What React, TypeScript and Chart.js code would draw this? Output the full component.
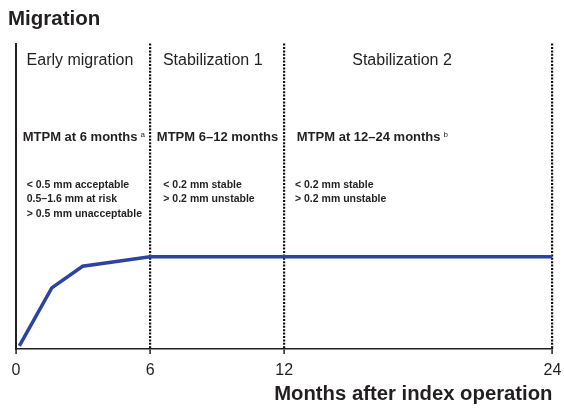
import { useEffect, useRef } from "react";
import { Chart, registerables } from "chart.js";

Chart.register(...registerables);

// ---- data ----
const months = [0.15, 1.6, 2.98, 6, 24];
const migration = [1, 20, 27.1, 30.2, 30.2];
const tickMonths = [0, 6, 12, 24];

const phaseNames = ["Early migration", "Stabilization 1", "Stabilization 2"];
const phaseCentres = [2.86, 8.8, 17.27];
const mtpmLabels = ["MTPM at 6 months", "MTPM 6–12 months", "MTPM at 12–24 months"];
const mtpmNotes = ["a", "", "b"];
const mtpmStarts = [0.3, 6.3, 12.56];
const thresholdLines = [
  ["< 0.5 mm acceptable", "0.5–1.6 mm at risk", "> 0.5 mm unacceptable"],
  ["< 0.2 mm stable", "> 0.2 mm unstable"],
  ["< 0.2 mm stable", "> 0.2 mm unstable"],
];
const thresholdStarts = [0.48, 6.59, 12.48];

const FAMILY = "'Liberation Sans', Arial, Helvetica, sans-serif";
const INK = "#231F20";

const annotationPlugin = {
  id: "phaseText",
  afterDraw(chart: any) {
    const { ctx, chartArea } = chart;
    const x = chart.scales.x;
    const top = chartArea.top;
    ctx.save();
    ctx.fillStyle = INK;
    ctx.textBaseline = "alphabetic";

    // phase headers
    ctx.font = `16px ${FAMILY}`;
    ctx.textAlign = "center";
    phaseNames.forEach((t, i) => {
      ctx.fillText(t, x.getPixelForValue(phaseCentres[i]), top + 21.5);
    });

    // MTPM labels
    ctx.textAlign = "left";
    mtpmLabels.forEach((t, i) => {
      ctx.font = `bold 13px ${FAMILY}`;
      const px = x.getPixelForValue(mtpmStarts[i]);
      ctx.fillText(t, px, top + 97.5);
      if (mtpmNotes[i]) {
        const w = ctx.measureText(t).width;
        ctx.font = `8px ${FAMILY}`;
        ctx.fillText(mtpmNotes[i], px + w + 3, top + 93);
      }
    });

    // thresholds
    ctx.font = `bold 10.5px ${FAMILY}`;
    thresholdLines.forEach((lines, i) => {
      const px = x.getPixelForValue(thresholdStarts[i]);
      lines.forEach((t, j) => {
        ctx.fillText(t, px, top + 144.3 + j * 14.4);
      });
    });
    ctx.restore();
  },
};

export default function App() {
  const ref = useRef<HTMLCanvasElement | null>(null);

  useEffect(() => {
    if (!ref.current) return;
    const chart = new Chart(ref.current, {
      type: "line",
      data: {
        datasets: [
          {
            data: months.map((m, i) => ({ x: m, y: migration[i] })),
            borderColor: "#2E42A0",
            borderWidth: 3.5,
            pointRadius: 0,
            tension: 0,
            fill: false,
          },
        ],
      },
      options: {
        animation: false,
        responsive: true,
        maintainAspectRatio: false,
        layout: { padding: { left: 8, right: 11.5, top: 0, bottom: 0 } },
        plugins: {
          legend: { display: false },
          tooltip: { enabled: false },
          title: {
            display: true,
            text: "Migration",
            align: "start",
            color: INK,
            font: { size: 20.5, weight: "bold", family: FAMILY },
            padding: { top: 7, bottom: 12 },
          },
        },
        scales: {
          x: {
            type: "linear",
            min: 0,
            max: 24,
            afterBuildTicks: (s: any) => {
              s.ticks = tickMonths.map((v) => ({ value: v }));
            },
            afterFit: (s: any) => {
              s.height = 59;
              s.paddingLeft = 0;
              s.paddingRight = 0;
            },
            grid: {
              display: true,
              drawOnChartArea: true,
              color: (c: any) => (c.tick && c.tick.value === 0 ? "rgba(0,0,0,0)" : "#111"),
              lineWidth: 2.2,
              tickLength: 5,
              tickColor: INK,
              tickWidth: 1.5,
              tickBorderDash: [],
            },
            border: { display: true, color: INK, width: 1.5, dash: [2, 1.4] },
            ticks: {
              color: INK,
              font: { size: 16, family: FAMILY },
              padding: 7,
              maxRotation: 0,
              autoSkip: false,
            },
            title: {
              display: true,
              text: "Months after index operation",
              align: "end",
              color: INK,
              font: { size: 20.3, weight: "bold", family: FAMILY },
              padding: { top: 0, bottom: 1 },
            },
          },
          y: {
            min: 0,
            max: 100,
            afterFit: (s: any) => {
              s.width = 8;
            },
            ticks: { display: false },
            grid: { display: true, drawOnChartArea: false, color: "rgba(0,0,0,0)", tickLength: 0 },
            border: { display: true, color: INK, width: 2 },
          },
        },
      } as any,
      plugins: [annotationPlugin],
    });
    return () => chart.destroy();
  }, []);

  return (
    <div style={{ position: "absolute", left: 0, top: 0, width: 564, height: 408 }}>
      <canvas ref={ref} />
    </div>
  );
}
